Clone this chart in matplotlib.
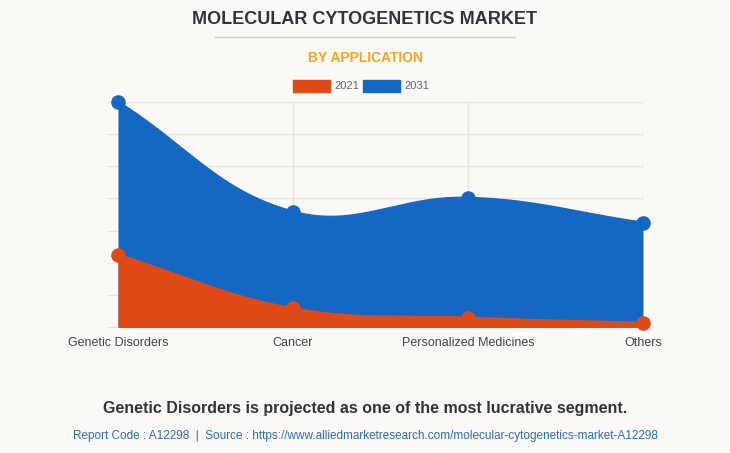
import numpy as np
import matplotlib
matplotlib.use("Agg")
import matplotlib.pyplot as plt

# ── Data (in gridline units) ───────────────────────────────────────────────── #
categories = ["Genetic Disorders", "Cancer", "Personalized Medicines", "Others"]
values_2021 = [2.25, 0.59, 0.30, 0.14]
values_2031 = [7.0, 3.59, 4.02, 3.25]
series_labels = ["2021", "2031"]

ORANGE = "#E04A16"
BLUE = "#1467C2"
BG = "#FAF9F5"
GRID = "#E6E4DF"

plt.rcParams["font.family"] = ["Liberation Sans", "DejaVu Sans"]

W, H = 730, 453
fig = plt.figure(figsize=(W / 100, H / 100), dpi=100, facecolor=BG)

# plot area in pixels: x 118..643, y 101.7..327.3
ax = fig.add_axes([118 / W, 1 - 327.3 / H, 525 / W, 225.6 / H])
ax.set_facecolor(BG)
ax.set_xlim(0, len(categories) - 1)
ax.set_ylim(0, 7)

px_x = 525 / (len(categories) - 1)
px_y = 225.6 / 7


def spline(xs, ys, tension=0.4, n=60):
    # chart.js style cubic bezier, control points computed in pixel space
    P = np.column_stack([np.asarray(xs, float) * px_x, np.asarray(ys, float) * px_y])
    m = len(P)
    cp_prev, cp_next = P.copy(), P.copy()
    for i in range(m):
        prev = P[max(i - 1, 0)]
        nxt = P[min(i + 1, m - 1)]
        d01 = np.hypot(*(P[i] - prev))
        d12 = np.hypot(*(nxt - P[i]))
        tot = d01 + d12
        s01 = d01 / tot if tot else 0
        s12 = d12 / tot if tot else 0
        cp_prev[i] = P[i] - tension * s01 * (nxt - prev)
        cp_next[i] = P[i] + tension * s12 * (nxt - prev)
    t = np.linspace(0, 1, n)[:, None]
    pts = []
    for i in range(m - 1):
        a, b, c, d = P[i], cp_next[i], cp_prev[i + 1], P[i + 1]
        seg = (1 - t) ** 3 * a + 3 * (1 - t) ** 2 * t * b + 3 * (1 - t) * t ** 2 * c + t ** 3 * d
        pts.append(seg if i == 0 else seg[1:])
    pts = np.vstack(pts)
    return pts[:, 0] / px_x, pts[:, 1] / px_y


xpos = np.arange(len(categories))
for vals, color, z in [(values_2031, BLUE, 2), (values_2021, ORANGE, 3)]:
    sx, sy = spline(xpos, vals)
    ax.fill_between(sx, 0, sy, color=color, lw=0, zorder=z)
    ax.plot(sx, sy, color=color, lw=1.5, zorder=z)
    ax.scatter(xpos, vals, s=110, color=color, zorder=z + 2, clip_on=False, lw=0)

ax.set_yticks(np.arange(0, 8))
ax.set_yticklabels([])
ax.set_xticks(xpos)
ax.set_xticklabels(categories, fontsize=9, color="#444444")
ax.tick_params(axis="y", length=8, color=GRID, width=1)
ax.tick_params(axis="x", length=0, pad=7)
ax.grid(True, color=GRID, lw=1, zorder=0)
ax.set_axisbelow(True)
for s in ax.spines.values():
    s.set_visible(False)
ax.axhline(0, color=GRID, lw=1, zorder=1)

# ── Titles, legend, footer ────────────────────────────────────────────────── #
fig.text(365 / W, 1 - 20 / H, "MOLECULAR CYTOGENETICS MARKET", ha="center", va="center",
         fontsize=13, fontweight="bold", color="#333333")
fig.add_artist(plt.Line2D([215 / W, 515 / W], [1 - 37 / H, 1 - 37 / H], color="#CCCCCC", lw=1))
fig.text(365 / W, 1 - 58 / H, "BY APPLICATION", ha="center", va="center",
         fontsize=10, fontweight="bold", color="#F5A623")

legend_x = [293, 363]
for lx, lab, col in zip(legend_x, series_labels, [ORANGE, BLUE]):
    fig.add_artist(plt.Rectangle((lx / W, 1 - 92 / H), 37 / W, 12 / H, color=col))
    fig.text((lx + 41) / W, 1 - 86 / H, lab, ha="left", va="center", fontsize=8, color="#666666")

fig.text(365 / W, 1 - 408 / H, "Genetic Disorders is projected as one of the most lucrative segment.",
         ha="center", va="center", fontsize=11.5, fontweight="bold", color="#333333")
fig.text(365 / W, 1 - 436 / H,
         "Report Code : A12298  |  Source : https://www.alliedmarketresearch.com/molecular-cytogenetics-market-A12298",
         ha="center", va="center", fontsize=8.5, color="#2E6DB4")

fig.savefig("out.png", dpi=100, facecolor=BG)
